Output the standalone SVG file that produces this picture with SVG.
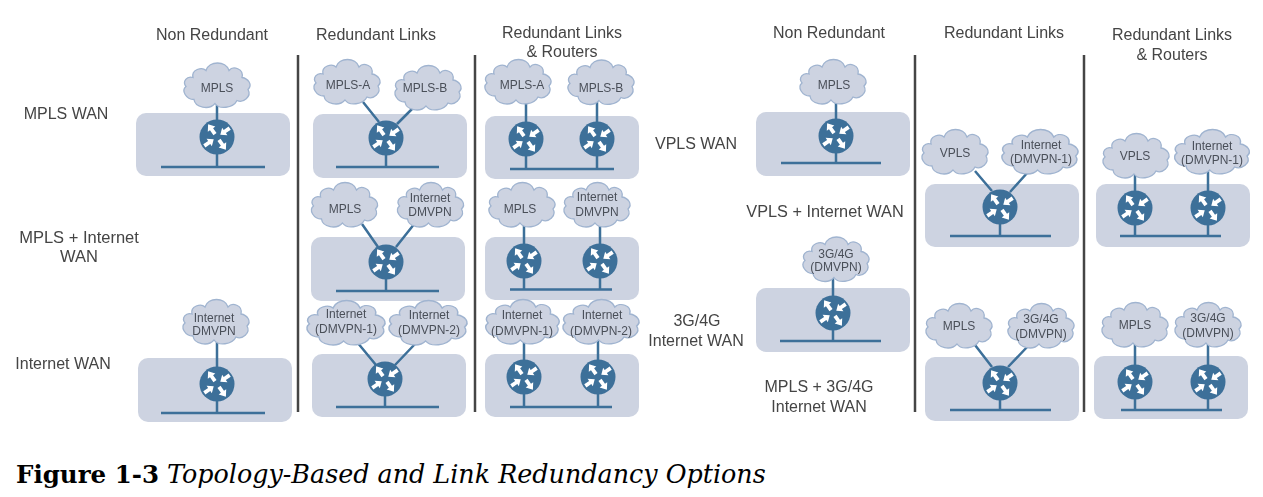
<svg xmlns="http://www.w3.org/2000/svg" width="1263" height="497" viewBox="0 0 1263 497">
<style>
text{font-family:"Liberation Sans",Arial,sans-serif;fill:#444;text-anchor:middle}
.h{font-size:16px}
.c{font-size:12px;fill:#4a4f59}
.p{fill:#cdd3e1}
.l{stroke:#3c6f99;stroke-width:2.5;fill:none}
.d{stroke:#444;stroke-width:2.5;fill:none}
.cap{font-family:"DejaVu Serif","Liberation Serif",serif;font-size:24.5px;fill:#000;text-anchor:start}
</style>
<defs>
<filter id="soft" x="0" y="0" width="1" height="1"><feGaussianBlur stdDeviation="0.35"/></filter>
<path id="cloud" fill="#cdd3e1" stroke="#a0b4d0" stroke-width="1.3" d="M-24,-8C-26,-16-15,-19-11,-15C-8,-25 9,-25 12,-15C16,-20 27,-17 25,-8C31,-7 36,-1 31,4C35,11 26,18 20,15C16,23 2,24-2,18C-8,25-22,22-23,14C-31,14-36,5-31,1C-35,-4-30,-10-24,-8Z"/>
<g id="router">
<circle r="17.5" fill="#3c6f99"/>
<g fill="#fff">
<polygon transform="rotate(-35)" points="0,-15.5 4.600,-9.500 1.900,-9.500 1.900,-3.500 -1.900,-3.500 -1.900,-9.500 -4.600,-9.500"/>
<polygon transform="rotate(145)" points="0,-15.5 4.600,-9.500 1.900,-9.500 1.900,-3.500 -1.900,-3.500 -1.900,-9.500 -4.600,-9.500"/>
<polygon transform="rotate(55)" points="0,-4 4.600,-9.500 1.900,-9.500 1.900,-15.500 -1.900,-15.500 -1.900,-9.500 -4.600,-9.500"/>
<polygon transform="rotate(-125)" points="0,-4 4.600,-9.500 1.900,-9.500 1.900,-15.500 -1.900,-15.500 -1.900,-9.500 -4.600,-9.500"/>
</g>
</g>
</defs>
<g filter="url(#soft)">
<g id="panels" class="p">
<rect id="panel-1" x="136" y="113" width="154" height="63" rx="10"/>
<rect id="panel-2" x="313" y="114" width="154" height="64" rx="10"/>
<rect id="panel-3" x="311" y="237" width="154" height="64" rx="10"/>
<rect id="panel-4" x="312" y="354" width="154" height="63" rx="10"/>
<rect id="panel-5" x="138" y="358" width="154" height="64" rx="10"/>
<rect id="panel-6" x="485" y="116" width="154" height="63" rx="10"/>
<rect id="panel-7" x="485" y="237" width="154" height="63" rx="10"/>
<rect id="panel-8" x="485" y="354" width="154" height="63" rx="10"/>
<rect id="panel-9" x="756" y="112" width="154" height="64" rx="10"/>
<rect id="panel-10" x="756" y="288" width="154" height="64" rx="10"/>
<rect id="panel-11" x="925" y="184" width="154" height="63" rx="10"/>
<rect id="panel-12" x="1096" y="184" width="154" height="63" rx="10"/>
<rect id="panel-13" x="925" y="357" width="154" height="64" rx="10"/>
<rect id="panel-14" x="1094" y="356" width="154" height="63" rx="10"/>
</g>
<g id="dividers" class="d">
<path d="M298,55V412M475,55V412M915,55V412M1084,55V412"/>
</g>
<g id="connectors" class="l">
<path d="M217,100V167M161,167H265"/>
<path d="M363,102L379,122M415,106L397,124M386,150V167M336,167H439"/>
<path d="M362,224L378,247M415,223L396,247M386,275V291M336,291H439"/>
<path d="M357,342L376,365M415,344L395,365M385,392V407M336,407H439"/>
<path d="M217,340V413M161,413H265"/>
<path d="M526,100V169M597,100V169M510,169H614"/>
<path d="M524,222V289.5M600,222V289.5M510,289.5H612"/>
<path d="M524,340V407M598,340V407M510,407H612"/>
<path d="M836,100V163M781,163H881"/>
<path d="M833,275V341M780,341H881"/>
<path d="M975,171L992,191M1028,172L1010,192M1000,220V236M950,236H1051"/>
<path d="M1135,175V236M1208,170V236M1120,236H1221"/>
<path d="M975,345L992,367M1029,345L1008,367M1000,396V410M950,410H1051"/>
<path d="M1135,342V410M1208,342V410M1121,410H1222"/>
</g>
<g id="r1"><use href="#router" x="217" y="137"/></g>
<g id="r2"><use href="#router" x="386" y="138"/></g>
<g id="r3"><use href="#router" x="386" y="262"/></g>
<g id="r4"><use href="#router" x="385" y="379"/></g>
<g id="r5"><use href="#router" x="217" y="384"/></g>
<g id="r6"><use href="#router" x="526" y="139"/></g>
<g id="r7"><use href="#router" x="597" y="139"/></g>
<g id="r8"><use href="#router" x="524" y="261"/></g>
<g id="r9"><use href="#router" x="600" y="261"/></g>
<g id="r10"><use href="#router" x="524" y="377"/></g>
<g id="r11"><use href="#router" x="598" y="377"/></g>
<g id="r12"><use href="#router" x="836" y="136"/></g>
<g id="r13"><use href="#router" x="833" y="313"/></g>
<g id="r14"><use href="#router" x="1000" y="207"/></g>
<g id="r15"><use href="#router" x="1135" y="208"/></g>
<g id="r16"><use href="#router" x="1208" y="208"/></g>
<g id="r17"><use href="#router" x="1000" y="383"/></g>
<g id="r18"><use href="#router" x="1135" y="382"/></g>
<g id="r19"><use href="#router" x="1208" y="382"/></g>

<g id="c1"><use href="#cloud" transform="translate(217,85.5)"/><text class="c" x="217" y="92">MPLS</text></g>
<g id="c2"><use href="#cloud" transform="translate(347,82)"/><text class="c" x="348" y="89">MPLS-A</text></g>
<g id="c3"><use href="#cloud" transform="translate(428,88)"/><text class="c" x="425" y="92">MPLS-B</text></g>
<g id="c4"><use href="#cloud" transform="translate(344.500,205)"/><text class="c" x="345" y="213">MPLS</text></g>
<g id="c5"><use href="#cloud" transform="translate(430.500,205)"/><text class="c" x="430" y="202">Internet</text><text class="c" x="430" y="216">DMVPN</text></g>
<g id="c6"><use href="#cloud" transform="translate(346,323) scale(1.18,1)"/><text class="c" x="346" y="318">Internet</text><text class="c" x="346" y="333">(DMVPN-1)</text></g>
<g id="c7"><use href="#cloud" transform="translate(428,323) scale(1.18,1)"/><text class="c" x="429" y="319">Internet</text><text class="c" x="429" y="334">(DMVPN-2)</text></g>
<g id="c8"><use href="#cloud" transform="translate(216,322)"/><text class="c" x="214" y="322">Internet</text><text class="c" x="214" y="335">DMVPN</text></g>
<g id="c9"><use href="#cloud" transform="translate(518,82)"/><text class="c" x="522" y="89">MPLS-A</text></g>
<g id="c10"><use href="#cloud" transform="translate(601,82.500)"/><text class="c" x="601" y="92">MPLS-B</text></g>
<g id="c11"><use href="#cloud" transform="translate(522,205)"/><text class="c" x="520" y="213">MPLS</text></g>
<g id="c12"><use href="#cloud" transform="translate(597,205)"/><text class="c" x="597" y="201">Internet</text><text class="c" x="597" y="216">DMVPN</text></g>
<g id="c13"><use href="#cloud" transform="translate(522.500,322) scale(1.11,1)"/><text class="c" x="522" y="319">Internet</text><text class="c" x="522" y="335">(DMVPN-1)</text></g>
<g id="c14"><use href="#cloud" transform="translate(601,322) scale(1.15,1)"/><text class="c" x="602" y="319">Internet</text><text class="c" x="601" y="335">(DMVPN-2)</text></g>
<g id="c15"><use href="#cloud" transform="translate(833,82)"/><text class="c" x="834" y="89">MPLS</text></g>
<g id="c16"><use href="#cloud" transform="translate(836,259.500)"/><text class="c" x="836" y="258">3G/4G</text><text class="c" x="836" y="271">(DMVPN)</text></g>
<g id="c17"><use href="#cloud" transform="translate(955,152)"/><text class="c" x="955" y="157">VPLS</text></g>
<g id="c18"><use href="#cloud" transform="translate(1040,152) scale(1.15,1)"/><text class="c" x="1041" y="149">Internet</text><text class="c" x="1041" y="163">(DMVPN-1)</text></g>
<g id="c19"><use href="#cloud" transform="translate(1136,156)"/><text class="c" x="1135" y="160">VPLS</text></g>
<g id="c20"><use href="#cloud" transform="translate(1212,152) scale(1.13,1)"/><text class="c" x="1212" y="150">Internet</text><text class="c" x="1212" y="164">(DMVPN-1)</text></g>
<g id="c21"><use href="#cloud" transform="translate(959,326)"/><text class="c" x="959" y="330">MPLS</text></g>
<g id="c22"><use href="#cloud" transform="translate(1041,326)"/><text class="c" x="1041" y="323">3G/4G</text><text class="c" x="1041" y="338">(DMVPN)</text></g>
<g id="c23"><use href="#cloud" transform="translate(1135,325)"/><text class="c" x="1135" y="329">MPLS</text></g>
<g id="c24"><use href="#cloud" transform="translate(1208,325)"/><text class="c" x="1208" y="322">3G/4G</text><text class="c" x="1208" y="337">(DMVPN)</text></g>

<g id="labels" class="h">
<text x="212" y="40">Non Redundant</text>
<text x="376" y="40">Redundant Links</text>
<text x="562" y="38">Redundant Links</text>
<text x="562" y="57">&amp; Routers</text>
<text x="829" y="38">Non Redundant</text>
<text x="1004" y="38">Redundant Links</text>
<text x="1172" y="40">Redundant Links</text>
<text x="1172" y="60">&amp; Routers</text>
<text x="66" y="119">MPLS WAN</text>
<text x="79" y="243" style="font-size:16.5px">MPLS + Internet</text>
<text x="79" y="262" style="font-size:16.5px">WAN</text>
<text x="63" y="369">Internet WAN</text>
<text x="696" y="149">VPLS WAN</text>
<text x="825" y="217" style="font-size:16.3px">VPLS + Internet WAN</text>
<text x="697" y="326">3G/4G</text>
<text x="696" y="346">Internet WAN</text>
<text x="819" y="392">MPLS + 3G/4G</text>
<text x="819" y="412">Internet WAN</text>
</g>
</g>
<text class="cap" x="16" y="483" font-weight="bold">Figure 1-3</text>
<text class="cap" x="167" y="483" font-style="italic" style="font-size:25.4px">Topology-Based and Link Redundancy Options</text>
</svg>
